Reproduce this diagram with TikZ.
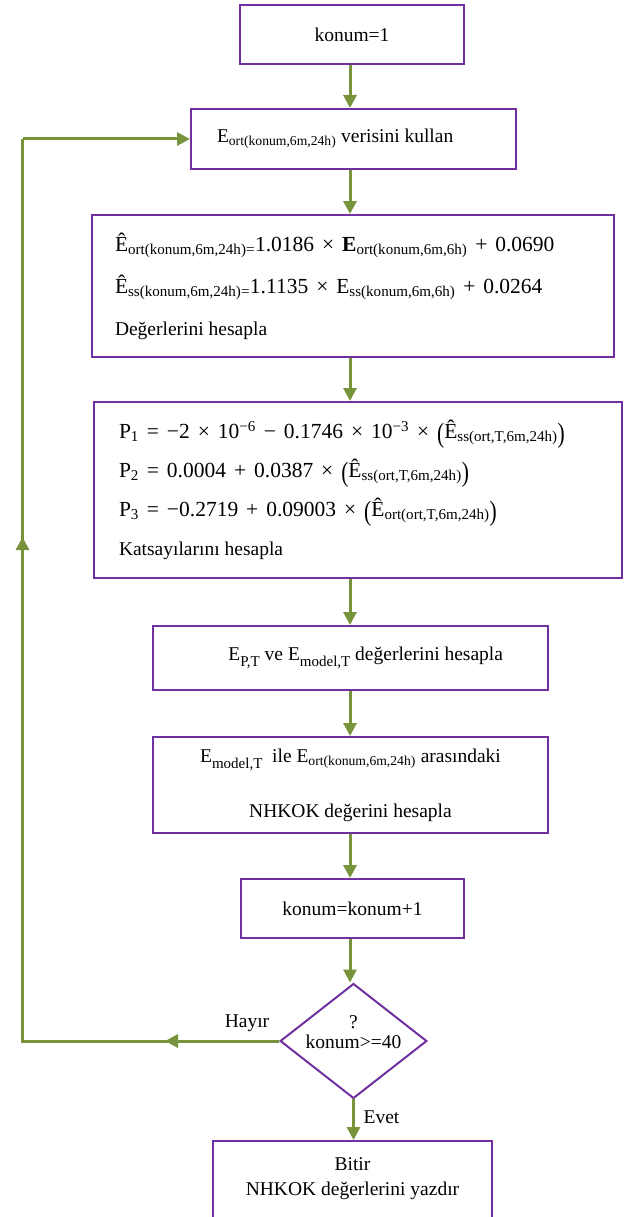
\documentclass[tikz,border=0pt]{standalone}
\usepackage{fontspec}
\setmainfont{Liberation Serif}
\usetikzlibrary{arrows.meta,shapes.geometric}

\definecolor{boxline}{HTML}{7030A0}
\definecolor{flowline}{HTML}{77933C}

\newcommand{\bigopen}{\raisebox{-0.18em}{\scalebox{1}[1.3]{(}}}
\newcommand{\bigclose}{\raisebox{-0.18em}{\scalebox{1}[1.3]{)}}}
\newcommand{\bigsub}[1]{\raisebox{-0.3em}{\fontsize{15}{15}\selectfont #1}}
\newcommand{\formulafont}[1]{\fontsize{21.5}{#1}\selectfont\spaceskip=0.37em\relax}
\newcommand{\plainfont}{\fontsize{19.5}{23.5}\selectfont\spaceskip=0pt\relax}

\begin{document}
\begin{tikzpicture}[x=1pt,y=-1pt,
        box/.style={draw=boxline, line width=2pt, inner sep=0pt, font=\fontsize{19.5}{23.5}\selectfont},
        cond/.style={box, diamond, aspect=1.277},
        flow/.style={draw=flowline, line width=3pt, -{Triangle[length=13pt,width=13pt]}},
        back/.style={draw=flowline, line width=3pt},
        tag/.style={font=\fontsize{19.5}{23.5}\selectfont}]

    \useasboundingbox (0,0) rectangle (640,1217);

    \node[box, minimum width=224pt, minimum height=59pt] (start) at (352,34.5) {konum=1};
    \node[box, align=flush left, text width=273pt, inner xsep=26pt, minimum height=60pt] (use) at (353.5,139)
        {E\textsubscript{ort(konum,6m,24h)} verisini kullan};
    \node[box, align=flush left, text width=476pt, inner xsep=23pt, minimum height=142pt,
          font=\formulafont{42}] (est) at (353,286)
        {Ê\textsubscript{ort(konum,6m,24h)=}1.0186 × \textbf{E}\textsubscript{ort(konum,6m,6h)} + 0.0690\\
         Ê\textsubscript{ss(konum,6m,24h)=}1.1135 × E\textsubscript{ss(konum,6m,6h)} + 0.0264\\
         {\plainfont Değerlerini hesapla}};
    \node[box, align=flush left, text width=478pt, inner xsep=25pt, minimum height=176pt,
          font=\formulafont{39}] (coef) at (358,490)
        {P\textsubscript{1} = −2 × 10\textsuperscript{−6} − 0.1746 × 10\textsuperscript{−3} × \bigopen Ê\textsubscript{ss(ort,T,6m,24h)}\bigclose\\
         P\textsubscript{2} = 0.0004 + 0.0387 × \bigopen Ê\textsubscript{ss(ort,T,6m,24h)}\bigclose\\
         P\textsubscript{3} = −0.2719 + 0.09003 × \bigopen Ê\textsubscript{ort(ort,T,6m,24h)}\bigclose\\
         {\plainfont Katsayılarını hesapla}};
    \node[box, align=flush right, text width=305pt, inner xsep=45pt, minimum height=64pt] (model) at (350.5,658)
        {E\bigsub{P,T} ve E\bigsub{model,T} değerlerini hesapla};
    \node[box, align=center, minimum width=395pt, minimum height=96pt,
          font=\fontsize{19.5}{55}\selectfont] (diff) at (350.5,785)
        {E\bigsub{model,T}\ \ ile E\textsubscript{ort(konum,6m,24h)} arasındaki\\NHKOK değerini hesapla};
    \node[box, minimum width=223pt, minimum height=59pt] (incr) at (352.5,908.5) {konum=konum+1};
    \node[cond, font=\fontsize{19.5}{20}\selectfont] (check) at (353.5,1041)
        {\raisebox{6.5pt}[\height][\depth]{\begin{tabular}{@{}c@{}}?\\konum>=40\end{tabular}}};
    \node[box, minimum width=279pt, minimum height=120pt, font=\fontsize{19.5}{25}\selectfont] (fin) at (352.5,1201)
        {\raisebox{23pt}[\height][\depth]{\begin{tabular}{@{}c@{}}Bitir\\NHKOK değerlerini yazdır\end{tabular}}};

    \node[tag] (no) at (247,1023) {Hayır};
    \node[tag] (yes) at (381.5,1117) {Evet};

    \coordinate (spine) at (350,0);
    \coordinate (nohead) at (165,1041);
    \coordinate (lowcorner) at (22.5,1041);
    \coordinate (uphead) at (22.5,537);

    \foreach \a/\b in {start/use,use/est,est/coef,coef/model,model/diff,diff/incr,incr/check}{
        \draw[flow] (\a.south -| spine) -- (\b.north -| spine);
    }
    \draw[flow] (check.south) -- (check.south |- fin.north);

    \draw[back] (check.west) -- (lowcorner) -- (lowcorner |- use.west);
    \draw[flow] (lowcorner |- use.west) -- (use.west);
    \draw[flow] (check.west) -- (nohead);
    \draw[flow] (lowcorner) -- (uphead);
\end{tikzpicture}
\end{document}
